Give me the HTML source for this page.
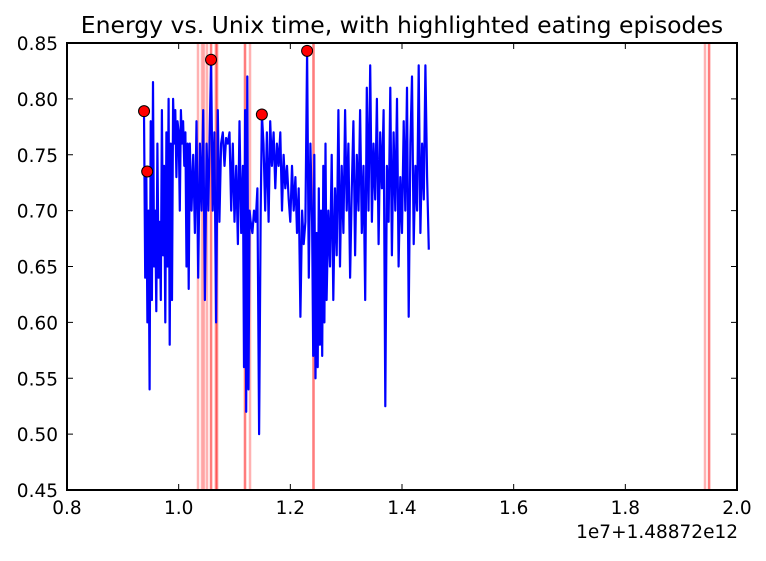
<!DOCTYPE html>
<html><head><meta charset="utf-8"><style>
body{margin:0;background:#fff;}
svg text{font-family:"DejaVu Sans","Liberation Sans",sans-serif;}
</style></head><body>
<svg id="chart" width="766" height="556" xmlns="http://www.w3.org/2000/svg">
<rect width="766" height="556" fill="#fff"/>
<text x="402" y="33" font-size="23.5" text-anchor="middle">Energy vs. Unix time, with highlighted eating episodes</text>
<g id="plot"></g>
</svg>
<script>
const xTicks=[0.8,1.0,1.2,1.4,1.6,1.8,2.0];
const xTickLabels=["0.8","1.0","1.2","1.4","1.6","1.8","2.0"];
const yTicks=[0.45,0.5,0.55,0.6,0.65,0.7,0.75,0.8,0.85];
const yTickLabels=["0.45","0.50","0.55","0.60","0.65","0.70","0.75","0.80","0.85"];
const eatingLines=[1.0346,1.0418,1.0454,1.0508,1.058,1.058,1.0665,1.0678,1.069,1.1188,1.1188,1.1278,1.2415,1.2415,1.9427,1.95,1.95];
const pointTimes=[0.938,0.9436,1.058,1.149,1.230];
const pointValues=[0.789,0.735,0.835,0.786,0.843];
const times=[.938,.940,.942,.944,.946,.948,.950,.952,.954,.956,.958,.960,.962,.964,.966,.968,.970,.972,.974,.976,.978,
.980,.982,.984,.986,.988,.990,.992,.994,.996,.998,1.000,1.002,1.004,1.006,1.008,1.010,1.012,1.014,1.016,1.018,
1.020,1.023,1.026,1.029,1.032,1.035,1.038,1.041,1.044,1.047,1.050,1.053,1.056,1.058,1.061,1.064,1.067,1.070,
1.073,1.076,1.079,1.082,1.085,1.088,1.091,1.094,1.097,1.100,1.103,1.106,1.109,1.112,
1.115,1.117,1.119,1.121,1.123,1.125,1.127,1.129,
1.132,1.135,1.138,1.141,1.144,1.147,1.149,1.152,1.155,1.158,1.161,1.164,1.167,1.170,1.173,1.176,1.179,1.182,1.185,1.188,1.191,1.194,1.197,1.200,
1.203,1.206,1.209,1.212,1.215,1.218,1.221,1.224,1.227,1.230,1.233,1.236,1.239,
1.241,1.243,1.245,1.247,1.249,1.251,1.253,1.255,1.257,1.259,1.261,1.263,1.265,1.268,1.271,1.274,1.277,1.280,1.283,1.286,1.289,
1.292,1.295,1.298,1.301,1.304,1.307,1.310,1.313,1.316,1.319,1.322,1.325,1.328,1.331,1.334,1.337,1.340,1.343,1.346,1.349,1.352,1.355,1.358,1.361,1.364,1.367,1.370,1.373,1.376,1.379,1.382,1.385,1.388,1.391,1.394,1.397,1.400,1.403,1.406,1.409,1.412,1.415,1.418,1.421,1.424,1.427,1.430,1.433,1.436,1.439,1.442,1.445,1.448];
const energy=[.789,.640,.735,.600,.700,.540,.780,.620,.815,.650,.700,.610,.760,.640,.690,.620,.790,.660,.740,.600,.770,
.650,.800,.580,.760,.620,.800,.760,.790,.730,.780,.770,.700,.790,.760,.780,.740,.770,.650,.760,.630,
.760,.700,.750,.680,.780,.640,.760,.700,.790,.620,.760,.700,.780,.835,.700,.770,.600,.790,
.690,.760,.770,.740,.765,.760,.770,.700,.760,.690,.740,.670,.780,.680,
.740,.560,.790,.520,.820,.540,.700,.690,
.680,.700,.690,.720,.500,.700,.786,.760,.700,.770,.690,.780,.740,.770,.720,.760,.740,.770,.700,.750,.720,.740,.710,.690,
.740,.700,.730,.680,.720,.605,.700,.670,.690,.843,.640,.760,.690,
.570,.750,.550,.680,.560,.720,.580,.700,.570,.740,.600,.760,.620,.700,.650,.750,.620,.720,.660,.790,.650,
.740,.680,.790,.700,.760,.640,.720,.780,.660,.750,.700,.790,.680,.740,.620,.810,.700,.830,.690,.760,.710,.800,.670,.770,.720,.790,.525,.740,.690,.810,.660,.770,.700,.800,.650,.730,.680,.780,.700,.810,.605,.760,.820,.670,.740,.700,.830,.680,.760,.710,.830,.730,.665];

const L=67,R=737,T=43,B=490;
const xs=v=>L+(v-0.8)/1.2*(R-L);
const ys=v=>B-(v-0.45)/0.4*(B-T);
const NS="http://www.w3.org/2000/svg";
const g=document.getElementById('plot');
function mk(tag,attrs,parent){const e=document.createElementNS(NS,tag);for(const k in attrs)e.setAttribute(k,attrs[k]);(parent||g).appendChild(e);return e;}

eatingLines.forEach(v=>{
  const l=mk('line',{x1:xs(v),x2:xs(v),y1:T,y2:B,stroke:'rgba(255,0,0,0.3)','stroke-width':2.5});
  
  
});
let d='';
times.forEach((t,i)=>{d+=(i?'L':'M')+xs(t).toFixed(1)+','+ys(energy[i]).toFixed(1);});
const line=mk('path',{d:d,fill:'none',stroke:'#0000ff','stroke-width':2.2,'stroke-linejoin':'round'});


pointTimes.forEach((t,i)=>{
  const c=mk('circle',{cx:xs(t),cy:ys(pointValues[i]),r:5.5,fill:'#ff0000',stroke:'#000','stroke-width':1});
  
  
});
const frame=mk('rect',{x:L,y:T,width:R-L,height:B-T,fill:'none',stroke:'#000','stroke-width':2});


xTicks.forEach((v,i)=>{
  const x=xs(v);
  mk('line',{x1:x,x2:x,y1:B,y2:B-6,stroke:'#000','stroke-width':1});
  mk('line',{x1:x,x2:x,y1:T,y2:T+6,stroke:'#000','stroke-width':1});
  const t=mk('text',{x:x,y:B+24,'font-size':18.5,'text-anchor':'middle'});
  t.textContent=xTickLabels[i];
  
  
});
yTicks.forEach((v,i)=>{
  const y=ys(v);
  mk('line',{x1:L,x2:L+6,y1:y,y2:y,stroke:'#000','stroke-width':1});
  mk('line',{x1:R,x2:R-6,y1:y,y2:y,stroke:'#000','stroke-width':1});
  const t=mk('text',{x:L-9,y:y+7,'font-size':18.5,'text-anchor':'end'});
  t.textContent=yTickLabels[i];
  
  
});
const off=mk('text',{x:R+1,y:B+48,'font-size':18.5,'text-anchor':'end'});
off.textContent='1e7+1.48872e12';


</script>
</body></html>
